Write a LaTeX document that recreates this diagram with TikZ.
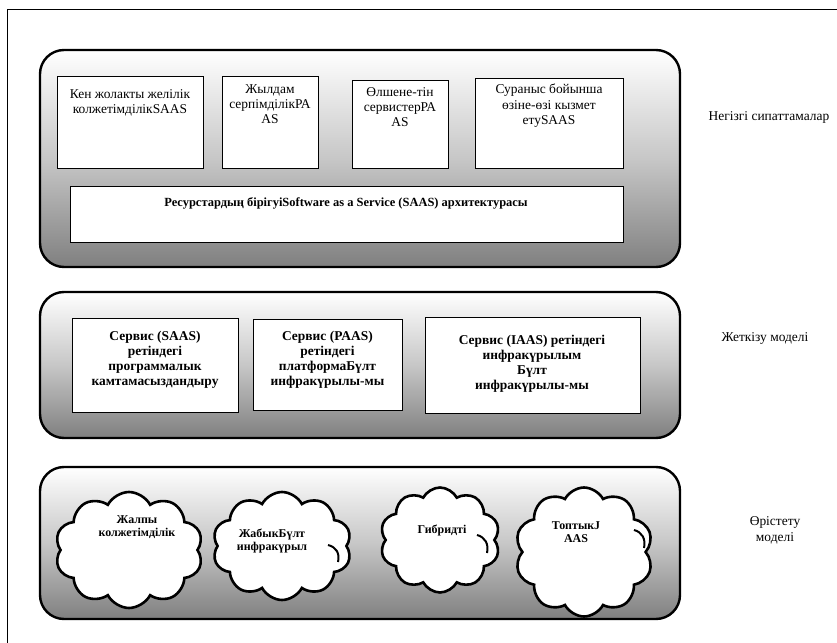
\documentclass[tikz,border=0pt]{standalone}
\usepackage{fontspec}
\setmainfont{Liberation Serif}
\usetikzlibrary{shapes.symbols}
\begin{document}
\begin{tikzpicture}[x=1bp,y=-1bp,
  panel/.style={draw=black, line width=2.4bp, rounded corners=24bp, top color=white, bottom color=black!50, middle color=black!22},
  box/.style={draw=black, line width=1.3bp, fill=white, anchor=north west, inner sep=0pt},
  txt/.style={font=\fontsize{13.5}{15.5}\selectfont, align=center, inner sep=0pt},
  btxt/.style={font=\bfseries\fontsize{13.5}{15}\selectfont, align=center, inner sep=0pt},
  wtxt/.style={font=\bfseries\fontsize{12.5}{14}\selectfont, align=center, inner sep=0pt},
  side/.style={font=\fontsize{13.5}{16}\selectfont, align=center, inner sep=0pt},
  cloudn/.style={cloud, cloud puffs=10, cloud puff arc=125, cloud ignores aspect, draw, line width=2.6bp, fill=white, inner sep=0pt},
  curl/.style={line width=2bp},
  ctxt/.style={font=\bfseries\fontsize{12}{13.5}\selectfont, align=center, inner sep=0pt}]
\useasboundingbox (0,0) rectangle (837,643);
\fill[white] (0,0) rectangle (837,643);
\draw[line width=1bp] (7,643) -- (7,10) -- (837,10);
% panels
\path[panel] (40,50) rectangle (680,267);
\path[panel] (40,292) rectangle (680,438);
\path[panel] (40,467) rectangle (680,619);
% row 1
\node[box, minimum width=146bp, minimum height=92bp] (b1) at (57,76) {};
\node[txt, anchor=north] (t1) at (130,89) {Кен жолакты желілік\\колжетімділікSAAS};
\node[box, minimum width=96bp, minimum height=92bp] (b2) at (222,76) {};
\node[txt, anchor=north] (t2) at (270,84) {Жылдам\\серпімділікРА\\AS};
\node[box, minimum width=96bp, minimum height=88bp] (b3) at (352,80) {};
\node[txt, anchor=north] (t3) at (400,87) {Өлшене-тін\\сервистерРА\\AS};
\node[box, minimum width=148bp, minimum height=90bp] (b4) at (475,78) {};
\node[txt, anchor=north] (t4) at (549,84) {Сураныс бойынша\\өзіне-өзі кызмет\\етуSAAS};
\node[box, minimum width=553bp, minimum height=56bp] (b5) at (70,186) {};
\node[wtxt] (t5) at (346,203) {Ресурстардың бірігуіSoftware as a Service (SAAS) архитектурасы};
% row 2
\node[box, minimum width=166bp, minimum height=94bp] (d1) at (72,318) {};
\node[btxt] (s1) at (155,360) {Сервис (SAAS)\\ретіндегі\\программалык\\камтамасыздандыру};
\node[box, minimum width=149bp, minimum height=91bp] (d2) at (253,319) {};
\node[btxt] (s2) at (327.5,359.5) {Сервис (PAAS)\\ретіндегі\\платформаБүлт\\инфракүрылы-мы};
\node[box, minimum width=215bp, minimum height=96bp] (d3) at (425,317) {};
\node[btxt] (s3) at (532,364) {Сервис (IAAS) ретіндегі\\инфракүрылым\\Бүлт\\инфракүрылы-мы};
% clouds
\node[cloudn, minimum width=148bp, minimum height=116bp] (c1) at (129,550) {};
\node[ctxt] (k1) at (137,527) {Жалпы\\колжетімділік};
\node[cloudn, minimum width=139bp, minimum height=108bp] (c2) at (282,546) {};
\node[ctxt] (k2) at (272,541) {ЖабыкБүлт\\инфракүрыл};
\node[cloudn, minimum width=120bp, minimum height=105bp] (c3) at (440,540) {};
\node[ctxt] (k3) at (442,530) {Гибридті};
\node[cloudn, minimum width=138bp, minimum height=129bp] (c4) at (584,552) {};
\node[ctxt] (k4) at (576,532) {ТоптыкJ\\AAS};
% curls inside clouds
\draw[curl] (328,545) .. controls (336,547) and (340,553) .. (338,562);
\draw[curl] (477,535) .. controls (485,537) and (489,544) .. (487,553);
\draw[curl] (634,530) .. controls (642,532) and (646,539) .. (644,548);
% side labels
\node[side] (l1) at (769,117) {Негізгі сипаттамалар};
\node[side] (l2) at (765,338) {Жеткізу моделі};
\node[side] (l3) at (775,530) {Өрістету\\моделі};
\end{tikzpicture}
\end{document}
